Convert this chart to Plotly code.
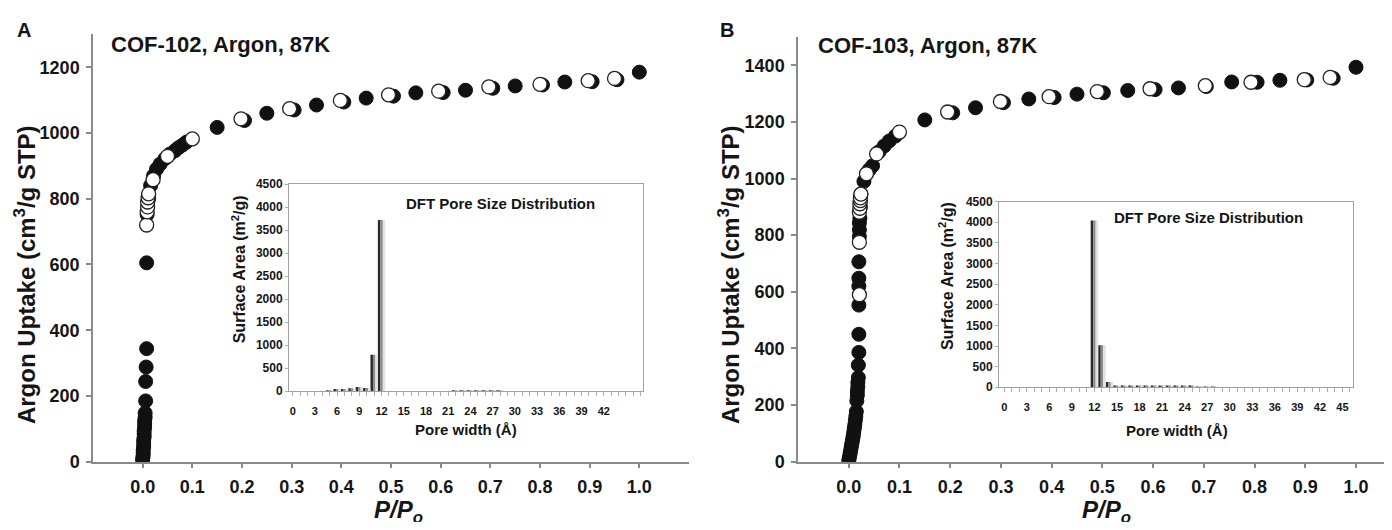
import plotly.graph_objects as go

# COF-102 argon isotherm (P/Po, uptake cm3/g STP)
ads_a_p = [0.000, 0.000, 0.001, 0.001, 0.001, 0.002, 0.002, 0.002, 0.003, 0.003,
           0.003, 0.004, 0.004, 0.004, 0.005, 0.005, 0.006, 0.006, 0.007, 0.008,
           0.008, 0.009, 0.012, 0.016, 0.022, 0.028, 0.035, 0.045, 0.055, 0.065,
           0.072, 0.080, 0.088, 0.150, 0.205, 0.250, 0.305, 0.350, 0.405, 0.450,
           0.505, 0.550, 0.605, 0.650, 0.705, 0.750, 0.805, 0.850, 0.905, 0.955, 1.000]
ads_a_v = [2, 10, 18, 26, 35, 45, 55, 65, 75, 85,
           95, 105, 115, 125, 135, 148, 185, 244, 288, 344,
           605, 752, 800, 840, 870, 890, 905, 922, 936, 946,
           955, 963, 972, 1017, 1038, 1060, 1070, 1085, 1094, 1106,
           1112, 1122, 1123, 1130, 1136, 1143, 1146, 1155, 1156, 1162, 1185]
des_a_p = [0.008, 0.009, 0.010, 0.010, 0.011, 0.012, 0.021, 0.050, 0.100,
           0.198, 0.296, 0.398, 0.495, 0.596, 0.697, 0.800, 0.897, 0.950]
des_a_v = [720, 760, 775, 790, 803, 815, 858, 929, 982,
           1043, 1074, 1099, 1116, 1127, 1140, 1148, 1159, 1166]

# COF-103 argon isotherm
ads_b_p = [0.000, 0.001, 0.002, 0.003, 0.004, 0.005, 0.006, 0.007, 0.008, 0.009,
           0.010, 0.011, 0.012, 0.013, 0.014, 0.015, 0.016, 0.017, 0.017, 0.018,
           0.018, 0.019, 0.019, 0.020, 0.020, 0.020, 0.020, 0.020, 0.020, 0.021,
           0.021, 0.021, 0.022, 0.023, 0.024, 0.030, 0.040, 0.047, 0.060, 0.070,
           0.080, 0.092, 0.150, 0.205, 0.250, 0.305, 0.355, 0.405, 0.450, 0.502,
           0.550, 0.604, 0.650, 0.705, 0.755, 0.805, 0.850, 0.903, 0.955, 1.000]
ads_b_v = [2, 12, 22, 32, 42, 52, 62, 72, 82, 92,
           105, 118, 130, 145, 160, 177, 215, 235, 250, 265,
           280, 297, 341, 386, 450, 553, 620, 648, 706, 795,
           819, 843, 860, 900, 945, 990, 1030, 1045, 1095, 1115,
           1133, 1150, 1207, 1232, 1250, 1268, 1281, 1286, 1298, 1303,
           1311, 1314, 1320, 1325, 1341, 1340, 1347, 1348, 1354, 1393]
des_b_p = [0.021, 0.021, 0.021, 0.022, 0.022, 0.023, 0.023, 0.024, 0.035, 0.055,
           0.100, 0.195, 0.299, 0.395, 0.490, 0.594, 0.703, 0.793, 0.898, 0.949]
des_b_v = [590, 775, 881, 895, 911, 922, 932, 945, 1017, 1087,
           1164, 1235, 1272, 1289, 1307, 1317, 1328, 1340, 1349, 1357]

# DFT pore size distributions (surface area m2/g per pore width in A)
pore_a = list(range(48))
area_a = [0, 0, 0, 0, 0, 20, 45, 45, 65, 90, 70, 790, 3720, 0, 0, 0,
          0, 0, 0, 0, 0, 0, 20, 20, 20, 20, 20, 20, 20, 0, 0, 0,
          0, 0, 0, 0, 0, 0, 0, 0, 0, 0, 0, 0, 0, 0, 0, 0]
pore_b = list(range(47))
area_b = [0, 0, 0, 0, 0, 0, 0, 0, 0, 0, 0, 0, 4040, 1020, 130, 20,
          20, 20, 25, 40, 40, 25, 20, 20, 20, 20, 15, 10, 15, 0, 0, 0,
          0, 0, 0, 0, 0, 0, 0, 0, 0, 0, 0, 0, 0, 0, 0]

p_ticks = [0.0, 0.1, 0.2, 0.3, 0.4, 0.5, 0.6, 0.7, 0.8, 0.9, 1.0]

# page body keeps an 8px margin, so the figure is 16px smaller than the window
PAD = 8
W, H = 1392 - 2 * PAD, 530 - 2 * PAD
FONT = "Liberation Sans, Arial, sans-serif"
AXC = "#8a8a8a"


def px(x):
    return min(1.0, (x - PAD) / W)


def py(y):
    return 1 - (y - PAD) / H


fig = go.Figure()

# isotherms: adsorption filled, desorption open on top
for p, v, ax in [(ads_a_p, ads_a_v, "x"), (ads_b_p, ads_b_v, "x3")]:
    fig.add_trace(go.Scatter(x=p, y=v, mode="markers", xaxis=ax,
                             yaxis=ax.replace("x", "y"),
                             marker=dict(size=14, color="#111111",
                                         line=dict(width=1, color="#111111"))))
for p, v, ax in [(des_a_p, des_a_v, "x"), (des_b_p, des_b_v, "x3")]:
    fig.add_trace(go.Scatter(x=p, y=v, mode="markers", xaxis=ax,
                             yaxis=ax.replace("x", "y"),
                             marker=dict(size=14, color="white",
                                         line=dict(width=1.3, color="#222222"))))

# inset bars, split in three strips for the shaded look
shades = [("#2a2a2a", -0.5), ("#8c8c8c", -0.17), ("#e2e2e2", 0.16)]
for w, a, ax in [(pore_a, area_a, "x2"), (pore_b, area_b, "x4")]:
    for col, off in shades:
        fig.add_trace(go.Bar(x=w, y=a, xaxis=ax, yaxis=ax.replace("x", "y"),
                             width=0.34, offset=off, marker_color=col,
                             marker_line_width=0))

main_x = dict(tickmode="array", tickvals=p_ticks,
              ticktext=[f"{t:.1f}" for t in p_ticks],
              showline=True, linecolor=AXC, linewidth=1.5, ticks="outside",
              ticklen=5, tickcolor=AXC, tickwidth=1.5, showgrid=False,
              zeroline=False, ticklabelstandoff=3,
              tickfont=dict(family=FONT, size=18, weight="bold", color="#151515"))
main_y = dict(showline=True, linecolor=AXC, linewidth=1.5, ticks="outside",
              ticklen=5, tickcolor=AXC, tickwidth=1.5, showgrid=False,
              zeroline=False, dtick=200, ticklabelstandoff=3,
              tickfont=dict(family=FONT, size=18, weight="bold", color="#151515"))
ins_x = dict(showline=True, linecolor="#a0a0a0", linewidth=1, mirror=True,
             ticks="outside", ticklen=4, tickcolor="#b0b0b0", showgrid=False,
             zeroline=False, tickmode="array",
             minor=dict(dtick=1, ticks="outside", ticklen=4, tickcolor="#b0b0b0"),
             ticklabelstandoff=6,
             tickfont=dict(family=FONT, size=11, weight="bold", color="#151515"))
ins_y = dict(showline=True, linecolor="#a0a0a0", linewidth=1, mirror=True,
             ticks="outside", ticklen=3, tickcolor="#b0b0b0", showgrid=False,
             zeroline=False, range=[0, 4500], dtick=500,
             tickfont=dict(family=FONT, size=12, weight="bold", color="#151515"))

fig.update_layout(
    width=W, height=H, margin=dict(l=0, r=0, t=0, b=0),
    paper_bgcolor="white", plot_bgcolor="rgba(0,0,0,0)",
    showlegend=False, barmode="overlay",
    font=dict(family=FONT, color="#151515"),
    xaxis=dict(main_x, domain=[px(93), px(689)], range=[-0.1, 1.1], anchor="y"),
    yaxis=dict(main_y, domain=[py(470), py(28)], range=[0, 1300], anchor="x"),
    xaxis3=dict(main_x, domain=[px(798), px(1392)], anchor="y3",
                range=[-0.1, (1384 - 849) / 507]),
    yaxis3=dict(main_y, domain=[py(470), py(30.7)], range=[0, 1500], anchor="x3"),
    xaxis2=dict(ins_x, domain=[px(289), px(643)], range=[-0.5, 47.3],
                tickvals=list(range(0, 43, 3)), anchor="y2"),
    yaxis2=dict(ins_y, domain=[py(397), py(183)], anchor="x2"),
    xaxis4=dict(ins_x, domain=[px(999), px(1353)], range=[-0.7, 46.4],
                tickvals=list(range(0, 46, 3)), anchor="y4"),
    yaxis4=dict(ins_y, domain=[py(393), py(201)], anchor="x4"),
)

# text, x, y, size, angle, xanchor, yanchor
ann = [
    ("<b>A</b>", 15, 23, 20, 0, "left", "middle"),
    ("<b>B</b>", 718, 24, 20, 0, "left", "middle"),
    ("<b>COF-102, Argon, 87K</b>", 109, 38, 22, 0, "left", "middle"),
    ("<b>COF-103, Argon, 87K</b>", 816, 40, 22, 0, "left", "middle"),
    ("<b>Argon Uptake (cm<sup>3</sup>/g STP)</b>", 25, 277, 24, -90, "center", "middle"),
    ("<b>Argon Uptake (cm<sup>3</sup>/g STP)</b>", 729, 277, 24, -90, "center", "middle"),
    ("<b><i>P/P<sub>o</sub></i></b>", 398, 503, 24, 0, "center", "top"),
    ("<b><i>P/P<sub>o</sub></i></b>", 1106, 503, 24, 0, "center", "top"),
    ("<b>DFT Pore Size Distribution</b>", 500, 203, 15, 0, "center", "middle"),
    ("<b>DFT Pore Size Distribution</b>", 1208, 217, 15, 0, "center", "middle"),
    ("<b>Surface Area (m<sup>2</sup>/g)</b>", 239, 271, 16, -90, "center", "middle"),
    ("<b>Surface Area (m<sup>2</sup>/g)</b>", 946, 278, 16, -90, "center", "middle"),
    ("<b>Pore width (Å)</b>", 466, 437, 15, 0, "center", "middle"),
    ("<b>Pore width (Å)</b>", 1177, 438, 15, 0, "center", "middle"),
]
for text, x, y, size, angle, xa, ya in ann:
    fig.add_annotation(text=text, x=px(x), y=py(y), xref="paper", yref="paper",
                       xanchor=xa, yanchor=ya, showarrow=False,
                       textangle=angle,
                       font=dict(family=FONT, size=size, color="#151515"))

fig.write_html("out.html")
